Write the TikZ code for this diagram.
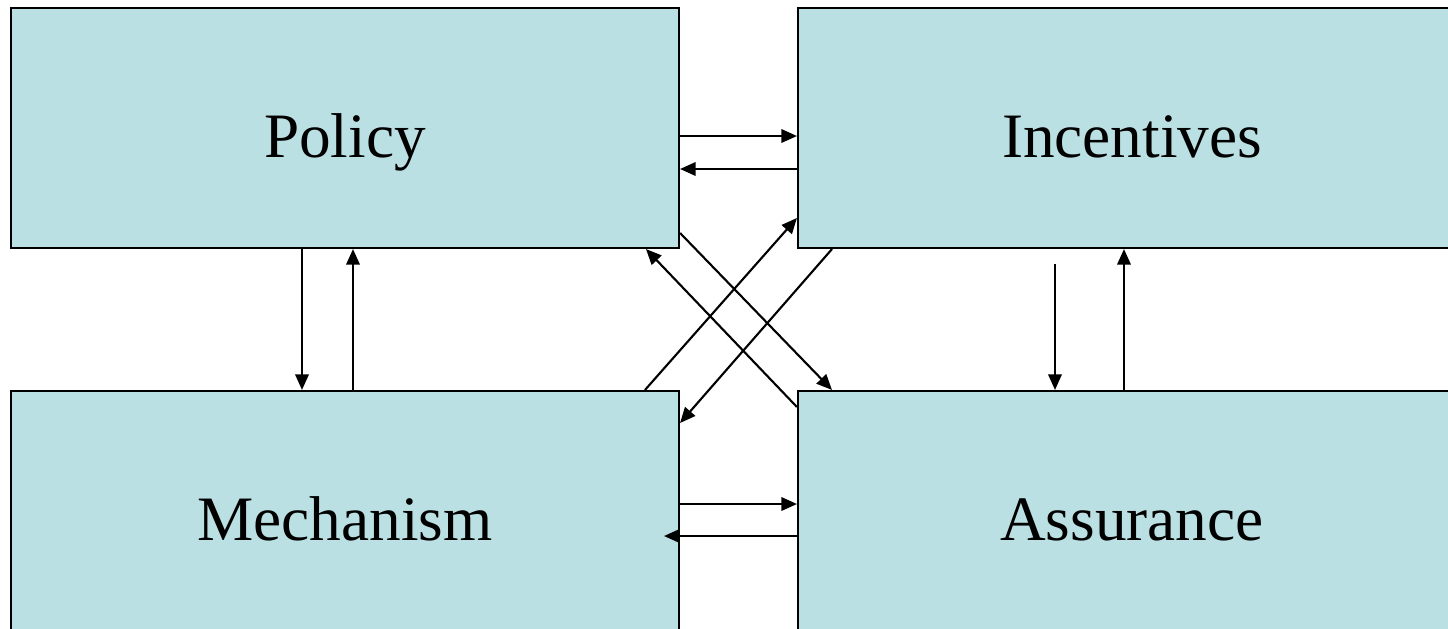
\documentclass[tikz,border=0pt]{standalone}
\usepackage{fontspec}
\setmainfont{Liberation Serif}
\usetikzlibrary{arrows.meta, positioning, calc}
\usepackage{xcolor}
\definecolor{boxblue}{RGB}{187,224,227}

\begin{document}
\begin{tikzpicture}[
      block/.style={draw, line width=0.6pt, rectangle, minimum width=6.68cm, minimum height=2.40cm,
                    align=center, fill=boxblue, font=\fontsize{18}{20}\selectfont,
                    text height=0.58cm, text depth=0pt},
      arr/.style={-{Triangle[length=4.4pt, width=3.8pt]}, line width=0.6pt}
    ]
    \useasboundingbox (0,0) rectangle (14.48,6.28);
    \clip (0,0) rectangle (14.48,6.28);
    \node[block] (pol)  at (3.45, 5.00)  {Policy};
    \node[block] (inc)  at (11.32, 5.00) {Incentives};
    \node[block] (mech) at (3.45, 1.17)  {Mechanism};
    \node[block] (ass)  at (11.32, 1.17) {Assurance};
    \coordinate (incgap) at (10.55, 3.64);

    \draw[arr] (pol.east |- 0,4.92) -- (inc.west |- 0,4.92);
    \draw[arr] (inc.west |- 0,4.59) -- (pol.east |- 0,4.59);
    \draw[arr] (mech.east |- 0,1.24) -- (ass.west |- 0,1.24);
    \draw[arr] (ass.west |- 0,0.92) -- ([xshift=-1.6mm]mech.east |- 0,0.92);

    \draw[arr] (pol.south -| 3.02,0) -- (mech.north -| 3.02,0);
    \draw[arr] (mech.north -| 3.53,0) -- (pol.south -| 3.53,0);
    \draw[arr] (incgap) -- (ass.north -| incgap);
    \draw[arr] (ass.north -| 11.24,0) -- (inc.south -| 11.24,0);

    \draw[arr] (pol.east |- 0,3.95) -- (ass.north -| 8.32,0);
    \draw[arr] (ass.west |- 0,2.21) -- (pol.south -| 6.46,0);
    \draw[arr] (mech.north -| 6.45,0) -- (inc.west |- 0,4.10);
    \draw[arr] (inc.south -| 8.32,0) -- (mech.east |- 0,2.05);
  \end{tikzpicture}
\end{document}
